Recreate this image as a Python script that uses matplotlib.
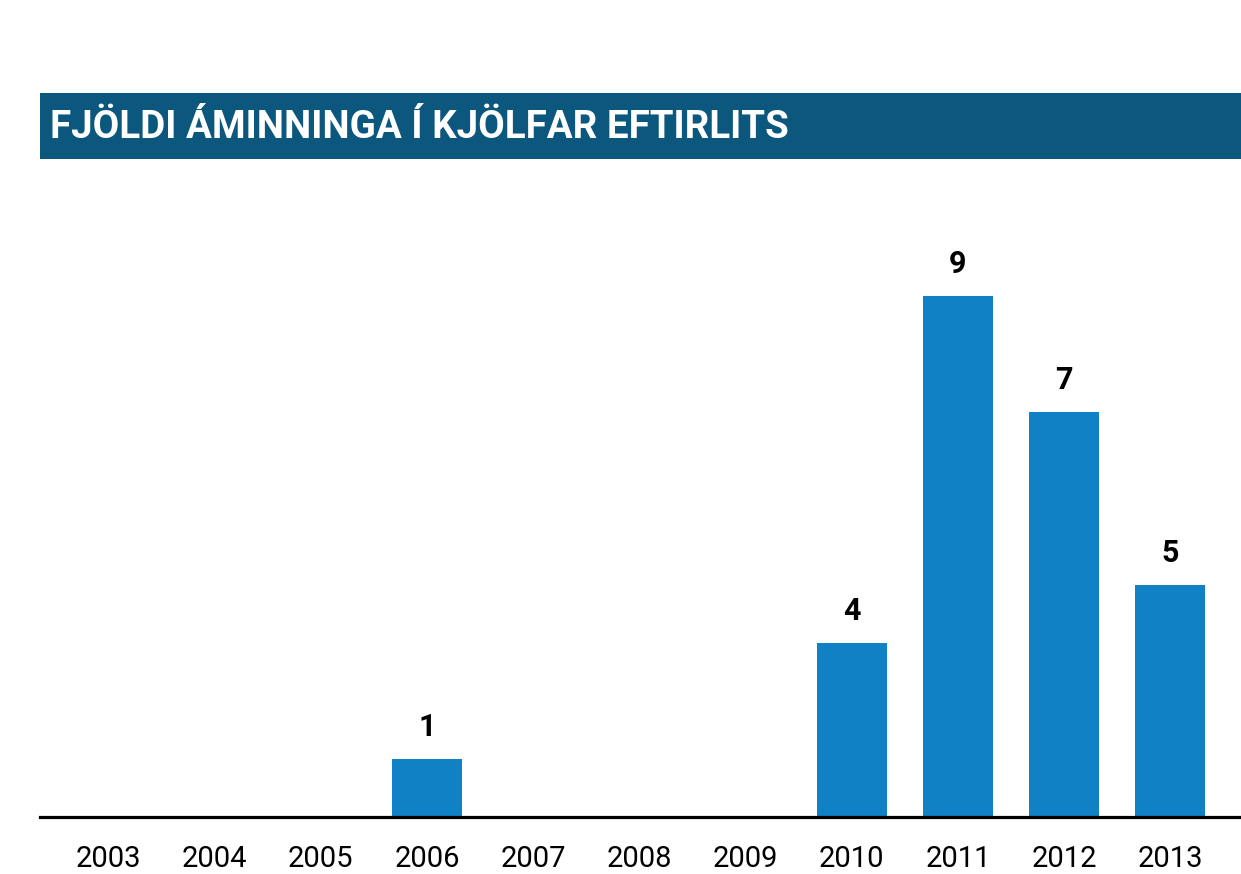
import matplotlib
matplotlib.use("Agg")
import matplotlib.pyplot as plt
from matplotlib import font_manager
from matplotlib.patches import Rectangle

years = ["2003", "2004", "2005", "2006", "2007", "2008", "2009", "2010", "2011", "2012", "2013"]
counts = [0, 0, 0, 1, 0, 0, 0, 4, 9, 7, 5]
# bar heights as drawn in the original picture
bar_heights = [0, 0, 0, 1, 0, 0, 0, 3, 9, 7, 4]
title = "FJÖLDI ÁMINNINGA Í KJÖLFAR EFTIRLITS"

names = {f.name for f in font_manager.fontManager.ttflist}
narrow = "Liberation Sans Narrow" if "Liberation Sans Narrow" in names else "Roboto"
plt.rcParams["font.family"] = [narrow, "DejaVu Sans"]

W, H = 1241, 874
fig = plt.figure(figsize=(W / 100, H / 100), dpi=100)

# title bar
fig.patches.append(Rectangle((40 / W, 1 - 159 / H), 1201 / W, 66 / H,
                             transform=fig.transFigure, facecolor="#0b577e",
                             edgecolor="none", zorder=0))
fig.text(50 / W, 1 - 127 / H, title, color="white", fontsize=27.7, fontweight="bold",
         va="center", ha="left")

ax = fig.add_axes([40 / W, 1 - 817 / H, 1 - 40 / W, (817 - 180) / H])
x = list(range(len(years)))
ax.bar(x, bar_heights, width=0.66, color="#1081c5", zorder=2)
ax.set_xlim(-0.644, 10.665)
ax.set_ylim(0, 11.0)
for s in ["top", "right", "left"]:
    ax.spines[s].set_visible(False)
ax.spines["bottom"].set_linewidth(2.3)
ax.spines["bottom"].set_zorder(3)
ax.set_yticks([])
ax.set_xticks(x)
ax.set_xticklabels(years, fontsize=21)
ax.tick_params(axis="x", length=0, pad=20)

for xi, h, c in zip(x, bar_heights, counts):
    if c > 0:
        ax.annotate(str(c), (xi, h), xytext=(0, 16.5), textcoords="offset points",
                    ha="center", va="baseline", fontsize=22, fontweight="bold")

fig.savefig("out.png", dpi=100)
